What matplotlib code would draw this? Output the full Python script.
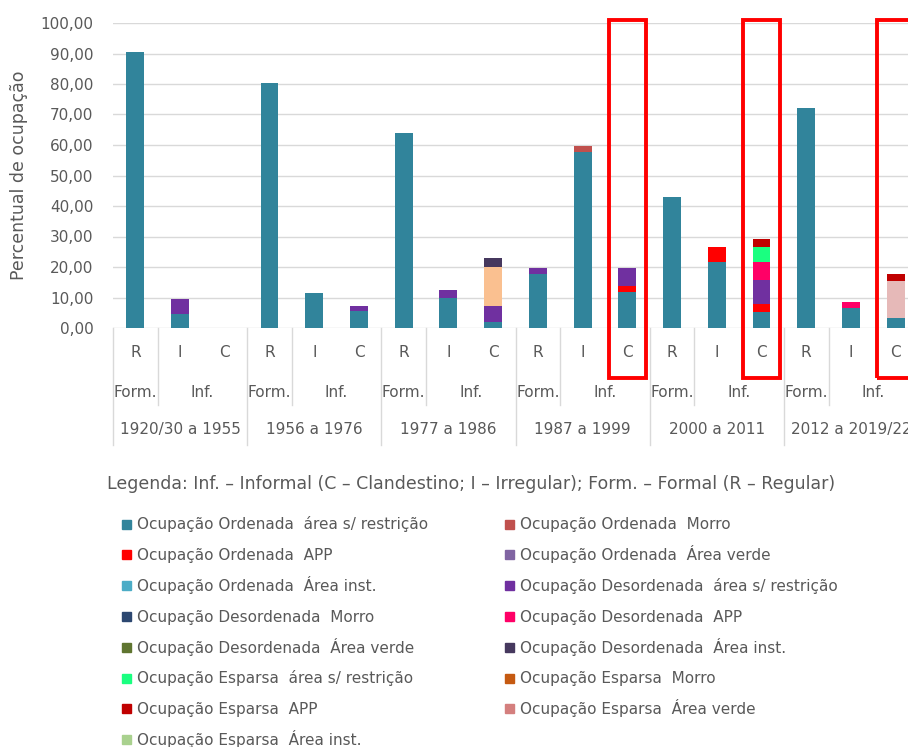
import numpy as np
import matplotlib.pyplot as plt
from matplotlib.patches import Rectangle

plt.rcParams['font.family'] = ['DejaVu Sans']

# categorias do eixo x (3 niveis)
periodos = ["1920/30 a 1955", "1956 a 1976", "1977 a 1986",
            "1987 a 1999", "2000 a 2011", "2012 a 2019/22"]
tipos = ["R", "I", "C"]
grupos = ["Form.", "Inf."]
destaque = [11, 14, 17]  # colunas C marcadas em vermelho

# valores (%) por serie, 18 colunas: R, I, C de cada periodo
ord_area = [90.5, 4.7, 0, 80.2, 11.5, 5.5, 64.0, 9.8, 2.1, 17.7, 57.8, 11.7, 43.0, 21.5, 5.1, 72.1, 6.7, 3.4]
ord_morro = [0, 0, 0, 0, 0, 0, 0, 0, 0, 0, 2.0, 0, 0, 0, 0, 0, 0, 0]
ord_app = [0, 0, 0, 0, 0, 0, 0, 0, 0, 0, 0, 2.1, 0, 5.2, 2.8, 0, 0, 0]
ord_verde = [0] * 18
ord_inst = [0] * 18
des_area = [0, 4.8, 0, 0, 0, 1.7, 0, 2.7, 5.1, 2.0, 0, 5.8, 0, 0, 7.8, 0, 0, 0]
des_morro = [0] * 18
des_app = [0, 0, 0, 0, 0, 0, 0, 0, 0, 0, 0, 0, 0, 0, 5.8, 0, 1.8, 0]
sem_legenda = [0, 0, 0, 0, 0, 0, 0, 0, 12.9, 0, 0, 0, 0, 0, 0, 0, 0, 0]
des_verde = [0] * 18
des_inst = [0, 0, 0, 0, 0, 0, 0, 0, 2.8, 0, 0, 0, 0, 0, 0, 0, 0, 0]
esp_area = [0, 0, 0, 0, 0, 0, 0, 0, 0, 0, 0, 0, 0, 0, 5.2, 0, 0, 0]
esp_morro = [0] * 18
esp_verde = [0, 0, 0, 0, 0, 0, 0, 0, 0, 0, 0, 0, 0, 0, 0, 0, 0, 12.1]
esp_app = [0, 0, 0, 0, 0, 0, 0, 0, 0, 0, 0, 0, 0, 0, 2.6, 0, 0, 2.1]
esp_inst = [0] * 18

# ordem de empilhamento
pilha = [ord_area, ord_morro, ord_app, ord_verde, ord_inst, des_area, des_morro, des_app,
         sem_legenda, des_verde, des_inst, esp_area, esp_morro, esp_verde, esp_app, esp_inst]
cores_pilha = ['#31849B', '#C0504D', '#FF0000', '#8064A2', '#4BACC6', '#7030A0', '#2C4770', '#FF0066',
               '#FAC090', '#5F7530', '#46385E', '#1AFF80', '#C55A11', '#E6B9B8', '#C00000', '#A9D18E']

# legenda (ordem do Excel, por linha)
nomes = ["Ocupação Ordenada  área s/ restrição", "Ocupação Ordenada  Morro",
         "Ocupação Ordenada  APP", "Ocupação Ordenada  Área verde",
         "Ocupação Ordenada  Área inst.", "Ocupação Desordenada  área s/ restrição",
         "Ocupação Desordenada  Morro", "Ocupação Desordenada  APP",
         "Ocupação Desordenada  Área verde", "Ocupação Desordenada  Área inst.",
         "Ocupação Esparsa  área s/ restrição", "Ocupação Esparsa  Morro",
         "Ocupação Esparsa  APP", "Ocupação Esparsa  Área verde",
         "Ocupação Esparsa  Área inst."]
cores_leg = ['#31849B', '#C0504D', '#FF0000', '#8064A2', '#4BACC6', '#7030A0', '#2C4770', '#FF0066',
             '#5F7530', '#46385E', '#1AFF80', '#C55A11', '#C00000', '#D47F7E', '#A9D18E']

cinza = '#595959'
fs = 11
W, H = 908, 747
fig = plt.figure(figsize=(W / 100, H / 100), dpi=100)
ax = fig.add_axes([113 / W, 1 - 328 / H, 805 / W, 305 / H])

x = np.arange(18)
base = np.zeros(18)
for vals, c in zip(pilha, cores_pilha):
    v = np.array(vals, dtype=float)
    ax.bar(x, v, 0.4, bottom=base, color=c, zorder=3)
    base += v

ax.set_xlim(-0.5, 17.5)
ax.set_ylim(0, 100)
ax.set_xticks([])
yt = np.arange(0, 101, 10)
ax.set_yticks(yt)
ax.set_yticklabels([f"{t:.2f}".replace('.', ',') for t in yt], color=cinza, fontsize=fs)
ax.tick_params(axis='y', length=0, pad=14)
ax.yaxis.grid(True, color='#D9D9D9', lw=1)
ax.set_axisbelow(True)
for s in ax.spines.values():
    s.set_visible(False)
ax.set_ylabel("Percentual de ocupação", color=cinza, fontsize=12.5, labelpad=9)

# eixo de categorias em varios niveis
tr = ax.get_xaxis_transform()
for g, p in enumerate(periodos):
    x0 = 3 * g
    for k, t in enumerate(tipos):
        ax.text(x0 + k, -0.079, t, transform=tr, ha='center', va='center', color=cinza, fontsize=fs)
    ax.text(x0, -0.213, grupos[0], transform=tr, ha='center', va='center', color=cinza, fontsize=fs)
    ax.text(x0 + 1.5, -0.213, grupos[1], transform=tr, ha='center', va='center', color=cinza, fontsize=fs)
    ax.text(x0 + 1, -0.334, p, transform=tr, ha='center', va='center', color=cinza, fontsize=fs)
    ax.plot([x0 - 0.5, x0 - 0.5], [0, -0.384], transform=tr, color='#D9D9D9', lw=1, clip_on=False)
    ax.plot([x0 + 0.5, x0 + 0.5], [0, -0.252], transform=tr, color='#D9D9D9', lw=1, clip_on=False)

for i in destaque:
    ax.add_patch(Rectangle((i - 0.41, -16.4), 0.82, 117.4, fill=False, edgecolor='#FF0000',
                           lw=2.8, clip_on=False, zorder=5))

fig.text(107 / W, 1 - 484 / H,
         "Legenda: Inf. – Informal (C – Clandestino; I – Irregular); Form. – Formal (R – Regular)",
         color=cinza, fontsize=12.5, va='center')

# legenda em duas colunas, linhas com passo fixo
for n, (nome, cor) in enumerate(zip(nomes, cores_leg)):
    col, lin = n % 2, n // 2
    xl = (122 if col == 0 else 505) / W
    yl = 1 - (524 + 30.8 * lin) / H
    fig.patches.append(Rectangle((xl, yl - 4.5 / H), 9 / W, 9 / H, color=cor,
                                 transform=fig.transFigure, figure=fig))
    fig.text(xl + 15 / W, yl - 5.5 / H, nome, color=cinza, fontsize=fs, va='baseline')

fig.savefig('out.png', dpi=100)
